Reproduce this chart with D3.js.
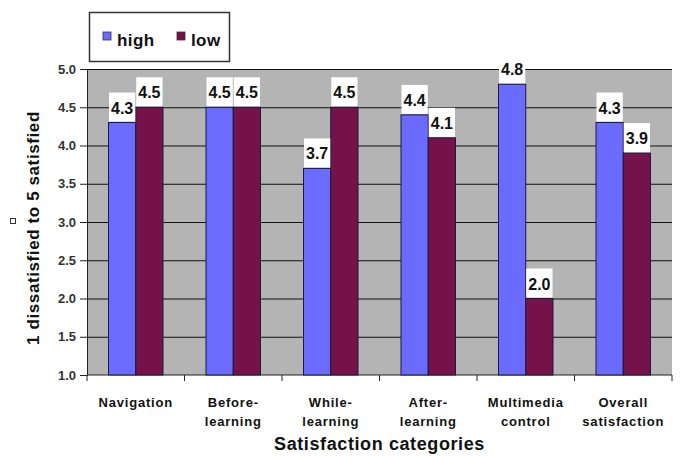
<!DOCTYPE html>
<html>
<head>
<meta charset="utf-8">
<script src="https://cdn.jsdelivr.net/npm/d3@7"></script>
<style>
  body { margin: 0; background: #fff; }
  svg { display: block; font-family: Arial, "Liberation Sans", sans-serif; }
</style>
</head>
<body>
<svg id="chart" width="682" height="456"></svg>
<script>
const categories = ["Navigation", "Before-learning", "While-learning", "After-learning", "Multimedia control", "Overall satisfaction"];
const categoryLines = [["Navigation"], ["Before-", "learning"], ["While-", "learning"], ["After-", "learning"], ["Multimedia", "control"], ["Overall", "satisfaction"]];
const seriesNames = ["high", "low"];
const highValues = [4.3, 4.5, 3.7, 4.4, 4.8, 4.3];
const lowValues = [4.5, 4.5, 4.5, 4.1, 2.0, 3.9];
const yTicks = [1.0, 1.5, 2.0, 2.5, 3.0, 3.5, 4.0, 4.5, 5.0];

const colors = { high: "#6b6bff", low: "#741249" };
const plot = { left: 87, right: 672, top: 69, bottom: 375 };

const svg = d3.select("#chart");

const x0 = d3.scaleBand().domain(categories).range([plot.left, plot.right]);
const x1 = d3.scaleBand().domain(seriesNames).range([21.5, x0.bandwidth() - 21.5]);
const y = d3.scaleLinear().domain([1, 5]).range([plot.bottom, plot.top]);

// plot background
svg.append("rect")
    .attr("x", plot.left).attr("y", plot.top)
    .attr("width", plot.right - plot.left).attr("height", plot.bottom - plot.top)
    .attr("fill", "#b4b4b4");

// gridlines
svg.append("g")
    .attr("transform", `translate(${plot.left},0)`)
    .call(d3.axisLeft(y).tickValues(yTicks.slice(1)).tickSize(-(plot.right - plot.left)).tickFormat(""))
    .call(g => g.select(".domain").remove())
    .call(g => g.selectAll("line").attr("stroke", "#111").attr("stroke-width", 1));

// y axis
svg.append("g")
    .attr("transform", `translate(${plot.left},0)`)
    .call(d3.axisLeft(y).tickValues(yTicks).tickSize(7).tickPadding(4).tickFormat(d3.format(".1f")))
    .call(g => g.select(".domain").attr("stroke", "#222"))
    .call(g => g.selectAll("line").attr("stroke", "#222"))
    .call(g => g.selectAll("text")
        .attr("font-size", "13px").attr("font-weight", "bold").attr("fill", "#333")
        .attr("font-family", "Arial, 'Liberation Sans', sans-serif"));

// x axis line and category ticks
svg.append("line")
    .attr("x1", plot.left).attr("x2", plot.right)
    .attr("y1", plot.bottom).attr("y2", plot.bottom)
    .attr("stroke", "#222");

const tickXs = categories.map(c => x0(c)).concat([x0(categories[categories.length - 1]) + x0.bandwidth()]);
svg.append("g").selectAll("line")
    .data(tickXs)
    .join("line")
    .attr("x1", d => d).attr("x2", d => d)
    .attr("y1", plot.bottom).attr("y2", plot.bottom + 6)
    .attr("stroke", "#222");

// bars
const rows = categories.map((c, i) => ({ category: c, high: highValues[i], low: lowValues[i] }));

const groups = svg.append("g").selectAll("g")
    .data(rows)
    .join("g")
    .attr("transform", d => `translate(${x0(d.category)},0)`);

const barData = d => seriesNames.map(k => ({ key: k, value: d[k] }));

groups.selectAll("rect.bar")
    .data(barData)
    .join("rect")
    .attr("class", "bar")
    .attr("x", d => x1(d.key))
    .attr("y", d => y(d.value))
    .attr("width", x1.bandwidth())
    .attr("height", d => y(1) - y(d.value))
    .attr("fill", d => colors[d.key])
    .attr("stroke", "#1a1a3a")
    .attr("stroke-width", 1);

// value labels
groups.selectAll("rect.lbl")
    .data(barData)
    .join("rect")
    .attr("class", "lbl")
    .attr("x", d => x1(d.key) + 0.5)
    .attr("y", d => y(d.value) - 30)
    .attr("width", x1.bandwidth() - 1)
    .attr("height", 29)
    .attr("fill", "#fff");

groups.selectAll("text.val")
    .data(barData)
    .join("text")
    .attr("class", "val")
    .attr("x", d => x1(d.key) + x1.bandwidth() / 2)
    .attr("y", d => y(d.value) - 9)
    .attr("text-anchor", "middle")
    .attr("font-size", "16px")
    .attr("font-weight", "bold")
    .attr("fill", "#111")
    .text(d => d3.format(".1f")(d.value));

// category labels
const catLabels = svg.append("g").selectAll("text")
    .data(categories)
    .join("text")
    .attr("x", d => x0(d) + x0.bandwidth() / 2)
    .attr("y", 407)
    .attr("text-anchor", "middle")
    .attr("font-size", "13px")
    .attr("font-weight", "bold")
    .attr("letter-spacing", "0.8px")
    .attr("fill", "#111");

catLabels.selectAll("tspan")
    .data((d, i) => categoryLines[i])
    .join("tspan")
    .attr("x", function () { return this.parentNode.getAttribute("x"); })
    .attr("dy", (d, i) => i === 0 ? 0 : 19)
    .text(d => d);

// axis titles
svg.append("text")
    .attr("x", (plot.left + plot.right) / 2)
    .attr("y", 450)
    .attr("text-anchor", "middle")
    .attr("font-size", "18px")
    .attr("font-weight", "bold")
    .attr("letter-spacing", "0.6px")
    .attr("fill", "#111")
    .text("Satisfaction categories");

svg.append("text")
    .attr("transform", "translate(39,228) rotate(-90)")
    .attr("text-anchor", "middle")
    .attr("font-size", "17px")
    .attr("font-weight", "bold")
    .attr("letter-spacing", "0.6px")
    .attr("fill", "#111")
    .text("1 dissatisfied to 5 satisfied");

svg.append("rect")
    .attr("x", 10.5).attr("y", 218.5)
    .attr("width", 5).attr("height", 5)
    .attr("fill", "#fff").attr("stroke", "#333");

// legend
const legend = svg.append("g");
legend.append("rect")
    .attr("x", 89.5).attr("y", 12.5)
    .attr("width", 140).attr("height", 49)
    .attr("fill", "#fff")
    .attr("stroke", "#333").attr("stroke-width", 1.5);

const legendX = d3.scalePoint().domain(seriesNames).range([103, 177]);
const items = legend.selectAll("g")
    .data(seriesNames)
    .join("g")
    .attr("transform", d => `translate(${legendX(d)},0)`);
items.append("rect")
    .attr("x", 0).attr("y", 32)
    .attr("width", 8).attr("height", 8)
    .attr("fill", d => colors[d])
    .attr("stroke", "#333").attr("stroke-width", 0.8);
items.append("text")
    .attr("x", 14).attr("y", 46)
    .attr("font-size", "17px")
    .attr("font-weight", "bold")
    .attr("letter-spacing", "0.4px")
    .attr("fill", "#111")
    .text(d => d);
</script>
</body>
</html>
